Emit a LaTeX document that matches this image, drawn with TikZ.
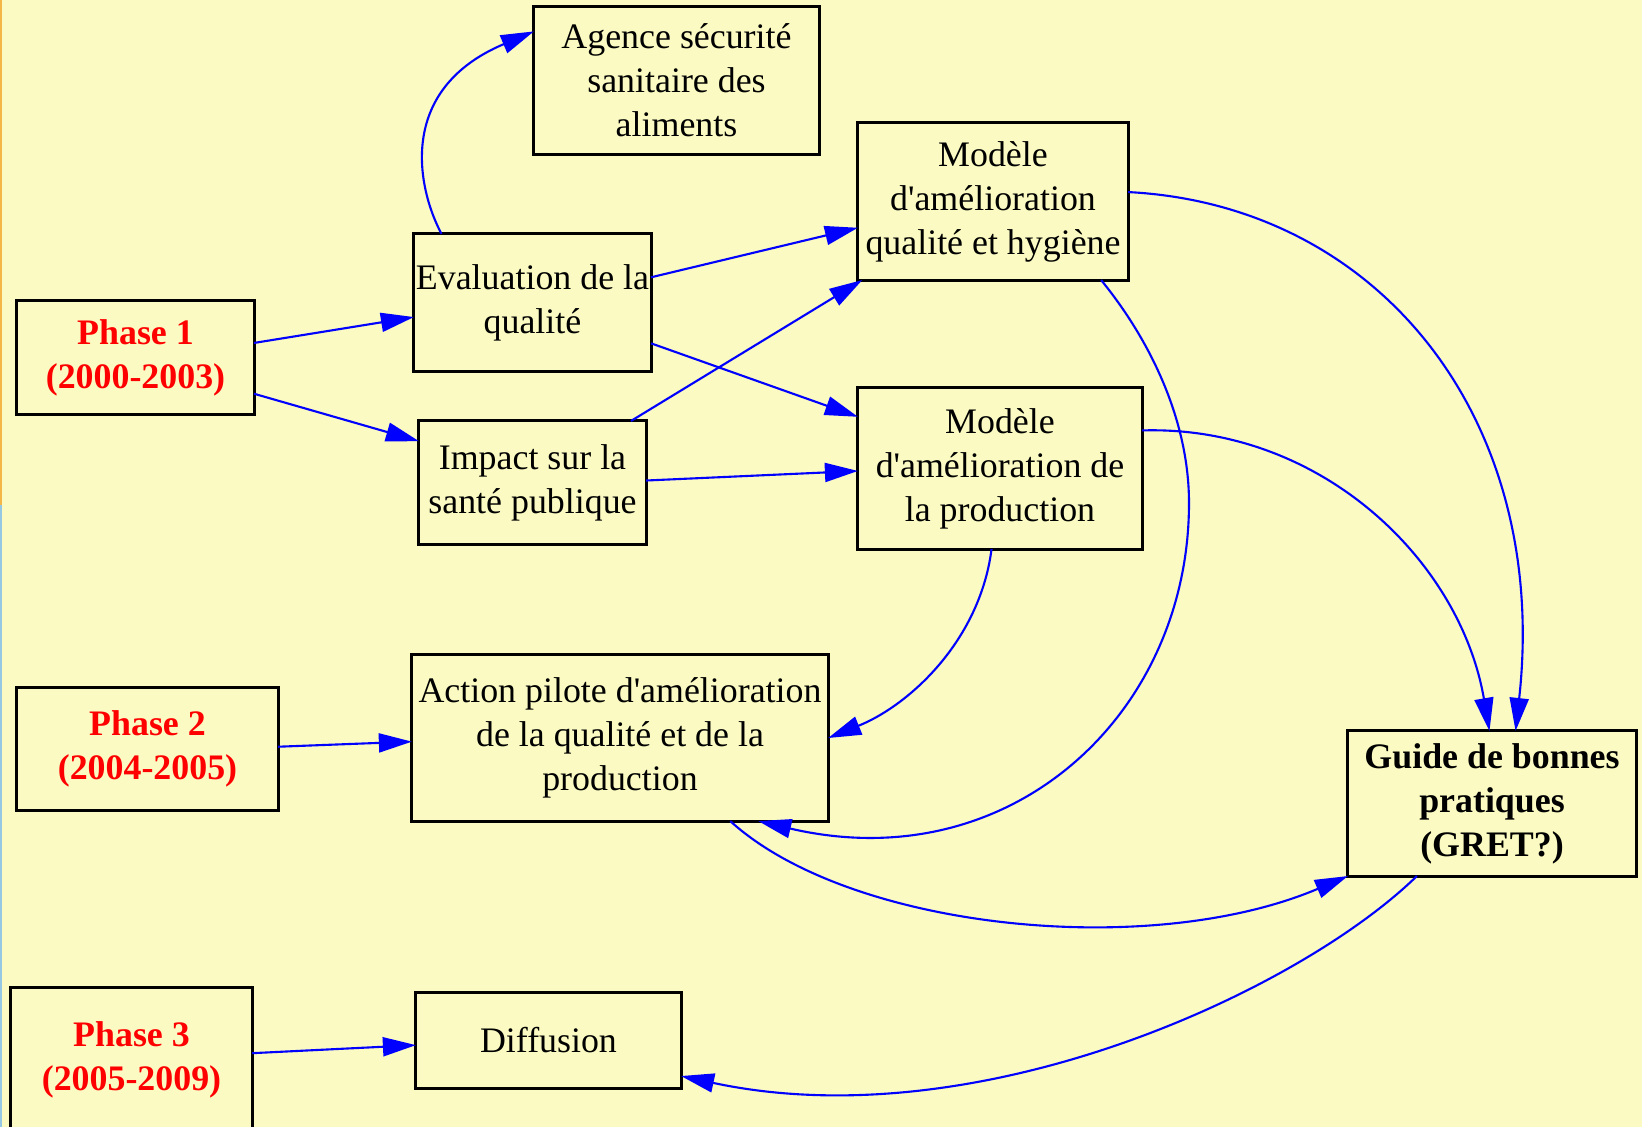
\documentclass[tikz,border=0pt]{standalone}
\usepackage{fontspec}
\setmainfont{Liberation Serif}
\usetikzlibrary{arrows.meta}

\definecolor{bgyellow}{RGB}{250,250,194}
\definecolor{edgeorange}{RGB}{245,182,72}
\definecolor{edgeblue}{RGB}{150,200,228}

\begin{document}
\begin{tikzpicture}[
  x=0.01cm, y=-0.01cm,
  >={Triangle[length=3.3mm,width=1.9mm]},
  box/.style={rectangle, draw=black, line width=0.85pt, outer sep=0pt,
              inner sep=0.3pt, align=center,
              font=\fontsize{10.2}{12.5}\selectfont},
  phase/.style={box, text=red, font=\fontsize{10.2}{12.5}\selectfont\bfseries},
  link/.style={->, blue, line width=0.6pt}
]
\useasboundingbox (0,0) rectangle (1642,1127);
\fill[bgyellow] (0,0) rectangle (1642,1127);
\fill[edgeorange] (0,0) rectangle (2,505);
\fill[edgeblue] (0,505) rectangle (2,1127);

\node[phase, minimum width=2.37cm, minimum height=1.13cm] (phaseA) at (135.5,357.5) {Phase 1\\(2000-2003)};
\node[phase, minimum width=2.61cm, minimum height=1.22cm] (phaseB) at (147.5,749) {Phase 2\\(2004-2005)};
\node[phase, minimum width=2.41cm, minimum height=1.43cm] (phaseC) at (131.5,1059.5) {Phase 3\\(2005-2009)};
\node[box, minimum width=2.85cm, minimum height=1.47cm] (agence) at (676.5,80.5) {Agence sécurité\\sanitaire des\\aliments};
\node[box, minimum width=2.37cm, minimum height=1.37cm] (eval) at (532.5,302.5) {Evaluation de la\\qualité};
\node[box, minimum width=2.27cm, minimum height=1.23cm] (impact) at (532.5,482.5) {Impact sur la\\santé publique};
\node[box, minimum width=2.70cm, minimum height=1.57cm] (hygiene) at (993,201.5) {Modèle\\d\textquotesingle amélioration\\qualité et hygiène};
\node[box, minimum width=2.84cm, minimum height=1.61cm] (prod) at (1000,468.5) {Modèle\\d\textquotesingle amélioration de\\la production};
\node[box, minimum width=4.16cm, minimum height=1.66cm] (pilote) at (620,738) {Action pilote d\textquotesingle amélioration\\de la qualité et de la\\production};
\node[box, font=\fontsize{10.2}{12.5}\selectfont\bfseries, minimum width=2.88cm, minimum height=1.45cm] (guide) at (1492,803.5) {Guide de bonnes\\pratiques\\(GRET?)};
\node[box, minimum width=2.65cm, minimum height=0.95cm] (diffusion) at (548.5,1040.5) {Diffusion};
\coordinate (bend) at (1189,503);

\draw[link] (phaseA.7) -- (eval.187);
\draw[link] (phaseA.-17) -- (impact.160);
\draw[link] (eval.143) .. controls (418,190) and (395,90) .. (agence.161);
\draw[link] (eval.12) -- (hygiene.191);
\draw[link] (eval.-19) -- (prod.160);
\draw[link] (impact.32) -- (hygiene.211);
\draw[link] (impact.1) -- (prod.181);
\draw[link] (phaseB.1) -- (pilote.181);
\draw[link] (phaseC.3) -- (diffusion.182);
\draw[link] (prod.264) .. controls (980,640) and (910,705) .. (pilote.east);
\draw[link] (hygiene.-36) .. controls (1150,340) and (1189,420) .. (bend)
  .. controls (1189,715) and (1010,880) .. (pilote.-31);
\draw[link] (hygiene.4) .. controls (1380,205) and (1550,420) .. (guide.72);
\draw[link] (prod.15) .. controls (1320,425) and (1460,560) .. (guide.92);
\draw[link] (pilote.-37) .. controls (850,930) and (1150,960) .. (guide.south west);
\draw[link] (guide.224) .. controls (1300,990) and (980,1140) .. (diffusion.-15);

\end{tikzpicture}
\end{document}
